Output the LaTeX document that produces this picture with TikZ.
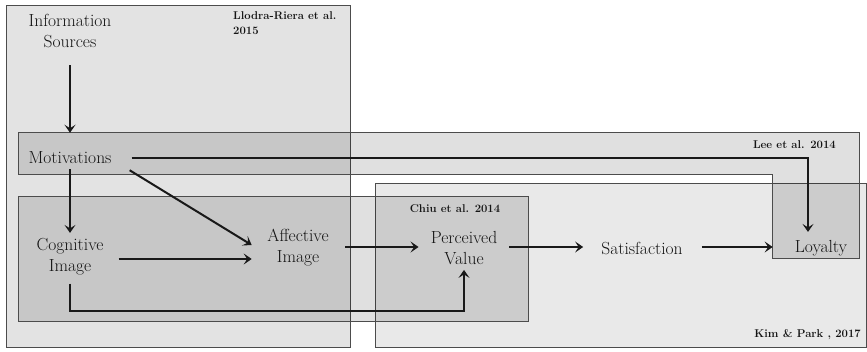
\documentclass[tikz,border=0pt]{standalone}
\usepackage{tikz}
\usetikzlibrary{positioning,arrows.meta,calc}
\definecolor{panelgray}{gray}{0.89}
\definecolor{edgegray}{gray}{0.3}
\definecolor{inkgray}{gray}{0.08}
\tikzset{
  >=Latex,
  flowarrow/.style={-{Stealth[length=8pt,width=11pt,inset=3.5pt]},line width=2pt,draw=black!90},
  concept/.style={align=center,inner sep=3pt,text=inkgray,font=\fontsize{17.5}{21}\selectfont},
  study/.style={align=left,inner sep=0pt,text=inkgray,font=\fontsize{11.3}{15}\selectfont\bfseries},
  panel/.style={draw=edgegray,line width=1pt,fill=panelgray},
  shadepanel/.style={draw=edgegray,line width=1pt,fill=black,fill opacity=0.12}
}

\begin{document}
\begin{tikzpicture}[x=1pt,y=-1pt]
    \useasboundingbox (0,0) rectangle (867,351);
    % study frames
    \draw[panel] (6,5) rectangle (350,347);
    \draw[panel,fill=panelgray!80!white] (375,183) rectangle (866,347);
    \draw[shadepanel] (18,132) -- (859,132) -- (859,258) -- (772,258) -- (772,174) -- (18,174) -- cycle;
    \draw[shadepanel] (18,196) rectangle (528,321);

    \node[study,anchor=north west] (llodra) at (233,11) {Llodra-Riera et al.\\2015};
    \node[study,anchor=east] (lee) at (836,145) {Lee et al. 2014};
    \node[study] (chiu) at (455,209) {Chiu et al. 2014};
    \node[study,anchor=east] (kim) at (861,335) {Kim \& Park , 2017};

    % constructs
    \node[concept] (info) at (70,31) {Information\\Sources};
    \node[concept] (motiv) at (70,158) {Motivations};
    \node[concept] (cog) at (70,257) {Cognitive\\Image};
    \node[concept] (aff) at (298,248) {Affective\\Image};
    \node[concept] (pv) at (464,248) {Perceived\\Value};
    \node[concept] (sat) at (642,248) {Satisfaction};
    \node[concept] (loy) at (821,248) {Loyalty};

    \draw[flowarrow,shorten <=14.5pt,shorten >=16pt] (info) -- (motiv);
    \draw[flowarrow,shorten <=2pt,shorten >=2.5pt] (motiv) -- (cog);
    \draw[flowarrow,shorten <=17pt,shorten >=5pt] (motiv.east) -| ([xshift=-13pt]loy.north);
    \draw[flowarrow] ([xshift=15pt,yshift=-3pt]motiv.south east) -- ([xshift=-12.5pt,yshift=3pt]aff.west);
    \draw[flowarrow,shorten <=12pt,shorten >=12.5pt] ([yshift=-2pt]cog.east) -- ([yshift=-2pt]cog.east -| aff.west);
    \draw[flowarrow,shorten <=13.5pt,shorten >=9pt] ([yshift=1pt]aff.east) -- ([yshift=1pt]pv.west);
    \draw[flowarrow,shorten <=9pt,shorten >=15pt] ([yshift=1pt]pv.east) -- ([yshift=1pt]sat.west);
    \draw[flowarrow,shorten <=16pt,shorten >=19pt] ([yshift=1pt]sat.east) -- ([yshift=1pt]loy.west);
    \draw[flowarrow,shorten <=5pt,shorten >=2pt] (cog.south) -- ++(0,32) -| (pv.south);
\end{tikzpicture}
\end{document}
